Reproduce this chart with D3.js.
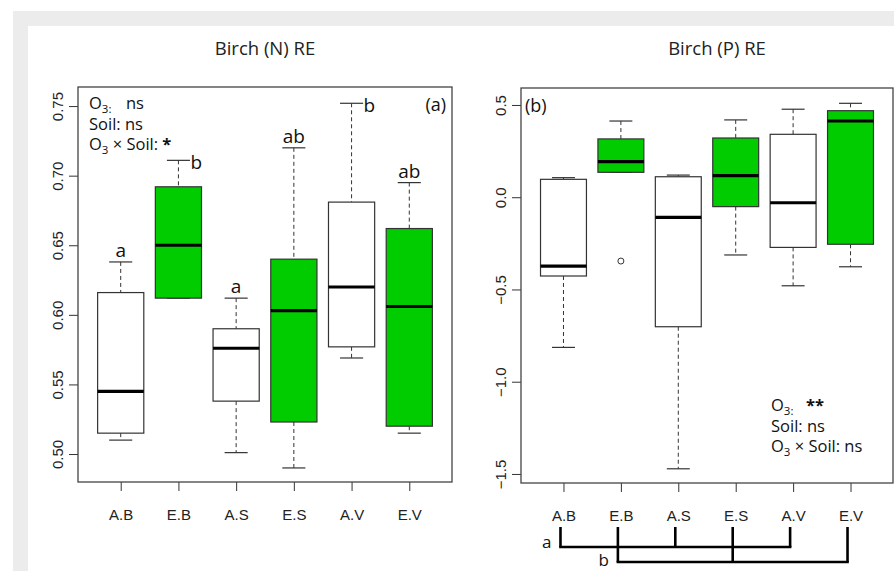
<!DOCTYPE html>
<html>
<head>
<meta charset="utf-8">
<script src="https://cdn.jsdelivr.net/npm/d3@7"></script>
<style>
  body { margin: 0; background: #fff; }
  svg { display: block; }
</style>
</head>
<body>
<svg id="chart" width="894" height="571"></svg>
<script>
// groups: O3 treatment (A = ambient, E = elevated) x soil
const groups = ["A.B", "E.B", "A.S", "E.S", "A.V", "E.V"];

// Birch (N) RE box statistics
const nLow = [0.510, 0.612, 0.501, 0.490, 0.569, 0.515];
const nQ1 = [0.515, 0.612, 0.538, 0.523, 0.577, 0.520];
const nMedian = [0.545, 0.650, 0.576, 0.603, 0.620, 0.606];
const nQ3 = [0.616, 0.692, 0.590, 0.640, 0.681, 0.662];
const nHigh = [0.638, 0.711, 0.612, 0.720, 0.752, 0.695];
const nLetters = ["a", "b", "a", "ab", "b", "ab"];
const nLetterSide = ["top", "right", "top", "top", "right", "top"];
const nTicks = [0.50, 0.55, 0.60, 0.65, 0.70, 0.75];

// Birch (P) RE box statistics
const pLow = [-0.814, 0.135, -1.472, -0.313, -0.480, -0.377];
const pQ1 = [-0.427, 0.135, -0.702, -0.051, -0.272, -0.255];
const pMedian = [-0.373, 0.193, -0.109, 0.117, -0.030, 0.413];
const pQ3 = [0.097, 0.316, 0.111, 0.321, 0.341, 0.469];
const pHigh = [0.106, 0.413, 0.120, 0.419, 0.477, 0.509];
const pOutliers = [{ group: "E.B", value: -0.346 }];
const pTicks = [-1.5, -1.0, -0.5, 0.0, 0.5];
const pBrackets = [
    { label: "a", members: ["A.B", "A.S", "A.V"] },
    { label: "b", members: ["E.B", "E.S", "E.V"] }
];

const green = "#00cc00";
const lineCol = "#333";
const textFont = "'Open Sans', Lato, sans-serif";
const axisFont = "'Liberation Sans', Arial, sans-serif";

const svg = d3.select("#chart");

// grey frame of the screenshot
svg.append("rect").attr("x", 13).attr("y", 11).attr("width", 881).attr("height", 15).attr("fill", "#ececec");
svg.append("rect").attr("x", 13).attr("y", 26).attr("width", 15).attr("height", 545).attr("fill", "#ececec");

function buildStats(low, q1, med, q3, high) {
    return groups.map((g, i) => ({ group: g, i: i, low: low[i], q1: q1[i], med: med[i], q3: q3[i], high: high[i] }));
}

function drawPanel(opt) {
    const x = d3.scaleLinear().domain([0.26, 6.74]).range([opt.left, opt.right]);
    const y = d3.scaleLinear().domain(opt.domain).range([opt.bottom, opt.top]);
    const boxW = 0.8 * (x(1) - x(0));
    const g = svg.append("g");

    // title
    g.append("text")
        .attr("x", opt.titleX).attr("y", 55)
        .attr("text-anchor", "middle")
        .attr("font-family", textFont).attr("font-size", "18.5px")
        .attr("fill", "#222")
        .text(opt.title);

    // y axis
    const yAxis = g.append("g")
        .attr("transform", `translate(${opt.left},0)`)
        .call(d3.axisLeft(y).tickValues(opt.ticks).tickSize(9).tickFormat(opt.fmt));
    yAxis.select(".domain").remove();
    yAxis.selectAll("line").attr("stroke", lineCol);
    yAxis.selectAll("text")
        .attr("transform", "rotate(-90)")
        .attr("x", 0).attr("y", -15).attr("dy", 0)
        .attr("text-anchor", "middle")
        .attr("font-family", axisFont).attr("font-size", "15px").attr("fill", "#222");

    // x axis
    const xAxis = g.append("g")
        .attr("transform", `translate(0,${opt.bottom})`)
        .call(d3.axisBottom(x).tickValues(d3.range(1, 7)).tickSize(9).tickFormat(d => groups[d - 1]));
    xAxis.select(".domain").remove();
    xAxis.selectAll("line").attr("stroke", lineCol);
    xAxis.selectAll("text")
        .attr("y", 38).attr("dy", 0)
        .attr("font-family", axisFont).attr("font-size", "15px").attr("fill", "#222");

    const boxes = g.append("g").selectAll("g")
        .data(opt.stats)
        .enter()
        .append("g")
        .attr("transform", d => `translate(${x(d.i + 1)},0)`);

    // dashed whiskers
    boxes.append("line")
        .attr("x1", 0).attr("x2", 0)
        .attr("y1", d => y(d.high)).attr("y2", d => y(d.q3))
        .attr("stroke", lineCol).attr("stroke-dasharray", "4,3");
    boxes.append("line")
        .attr("x1", 0).attr("x2", 0)
        .attr("y1", d => y(d.q1)).attr("y2", d => y(d.low))
        .attr("stroke", lineCol).attr("stroke-dasharray", "4,3");

    // whisker caps
    boxes.append("line")
        .attr("x1", -boxW / 4).attr("x2", boxW / 4)
        .attr("y1", d => y(d.high)).attr("y2", d => y(d.high))
        .attr("stroke", lineCol).attr("stroke-width", 1.2);
    boxes.append("line")
        .attr("x1", -boxW / 4).attr("x2", boxW / 4)
        .attr("y1", d => y(d.low)).attr("y2", d => y(d.low))
        .attr("stroke", lineCol).attr("stroke-width", 1.2);

    // box
    boxes.append("rect")
        .attr("x", -boxW / 2)
        .attr("y", d => y(d.q3))
        .attr("width", boxW)
        .attr("height", d => y(d.q1) - y(d.q3))
        .attr("fill", d => d.group.startsWith("E") ? green : "#fff")
        .attr("stroke", lineCol).attr("stroke-width", 1.2);

    // median
    boxes.append("line")
        .attr("x1", -boxW / 2).attr("x2", boxW / 2)
        .attr("y1", d => y(d.med)).attr("y2", d => y(d.med))
        .attr("stroke", "#000").attr("stroke-width", 3.2);

    // outliers
    g.append("g").selectAll("circle")
        .data(opt.outliers || [])
        .enter()
        .append("circle")
        .attr("cx", d => x(groups.indexOf(d.group) + 1))
        .attr("cy", d => y(d.value))
        .attr("r", 3)
        .attr("fill", "none").attr("stroke", lineCol);

    // frame
    g.append("rect")
        .attr("x", opt.left).attr("y", opt.top)
        .attr("width", opt.right - opt.left).attr("height", opt.bottom - opt.top)
        .attr("fill", "none").attr("stroke", "#444").attr("stroke-width", 1.3);

    // panel tag
    g.append("text")
        .attr("x", opt.tagX).attr("y", opt.top + 24)
        .attr("text-anchor", opt.tagAnchor)
        .attr("font-family", textFont).attr("font-size", "18px").attr("fill", "#111")
        .text(opt.tag);

    return { x, y, g, boxW };
}

// significance lines; each part may be a subscript or sit at a fixed x
function drawStats(g, x0, y0, lines) {
    const t = g.append("g").attr("font-family", textFont).attr("font-size", "16.5px").attr("fill", "#111");
    lines.forEach((parts, k) => {
        const base = y0 + k * 20.5;
        const txt = t.append("text").attr("x", x0).attr("y", base);
        parts.forEach(p => {
            const s = txt.append("tspan").text(p.t);
            if (p.sub) s.attr("font-size", "11.5px").attr("y", base + 4);
            else s.attr("y", base);
            if (p.at) s.attr("x", p.at);
            if (p.bold) s.attr("font-weight", "bold");
        });
    });
}

// ---------- left panel ----------
const left = drawPanel({
    left: 78, right: 452, top: 87, bottom: 482,
    domain: [0.4799, 0.7637], ticks: nTicks, fmt: d3.format(".2f"),
    title: "Birch (N) RE", titleX: 265,
    tag: "(a)", tagX: 446, tagAnchor: "end",
    stats: buildStats(nLow, nQ1, nMedian, nQ3, nHigh)
});

left.g.append("g").selectAll("text")
    .data(groups)
    .enter()
    .append("text")
    .attr("x", (d, i) => nLetterSide[i] === "right" ? left.x(i + 1) + left.boxW / 4 + 0.5 : left.x(i + 1))
    .attr("y", (d, i) => nLetterSide[i] === "right" ? left.y(nHigh[i]) + 9 : left.y(nHigh[i]) - 5)
    .attr("text-anchor", (d, i) => nLetterSide[i] === "right" ? "start" : "middle")
    .attr("font-family", textFont).attr("font-size", "19px").attr("fill", "#111")
    .text((d, i) => nLetters[i]);

drawStats(left.g, 89, 109, [
    [{ t: "O" }, { t: "3:", sub: true }, { t: "ns", at: 126 }],
    [{ t: "Soil: ns" }],
    [{ t: "O" }, { t: "3", sub: true }, { t: " × Soil: " }, { t: "*", bold: true }]
]);

// ---------- right panel ----------
const right = drawPanel({
    left: 521, right: 893, top: 88, bottom: 483,
    domain: [-1.549, 0.592], ticks: pTicks, fmt: d3.format(".1f"),
    title: "Birch (P) RE", titleX: 717,
    tag: "(b)", tagX: 525, tagAnchor: "start",
    stats: buildStats(pLow, pQ1, pMedian, pQ3, pHigh),
    outliers: pOutliers
});

drawStats(right.g, 771, 411, [
    [{ t: "O" }, { t: "3:", sub: true }, { t: "**", at: 806, bold: true }],
    [{ t: "Soil: ns" }],
    [{ t: "O" }, { t: "3", sub: true }, { t: " × Soil: ns" }]
]);

// grouping brackets under the right panel
const bracketTop = 527;
const bracketLevel = [547, 562];
const br = right.g.append("g").attr("stroke", "#000").attr("stroke-width", 2.6).attr("fill", "none");
pBrackets.forEach((b, k) => {
    const xs = b.members.map(m => right.x(groups.indexOf(m) + 1) - 3);
    xs.forEach(xv => {
        br.append("line").attr("x1", xv).attr("x2", xv).attr("y1", bracketTop).attr("y2", bracketLevel[k]);
    });
    br.append("line").attr("x1", d3.min(xs) - 1.3).attr("x2", d3.max(xs) + 1.3)
        .attr("y1", bracketLevel[k]).attr("y2", bracketLevel[k]);
    right.g.append("text")
        .attr("x", d3.min(xs) - 9).attr("y", bracketLevel[k] + 1 + k * 3)
        .attr("text-anchor", "end")
        .attr("font-family", textFont).attr("font-size", "17px").attr("fill", "#111")
        .text(b.label);
});
</script>
</body>
</html>
